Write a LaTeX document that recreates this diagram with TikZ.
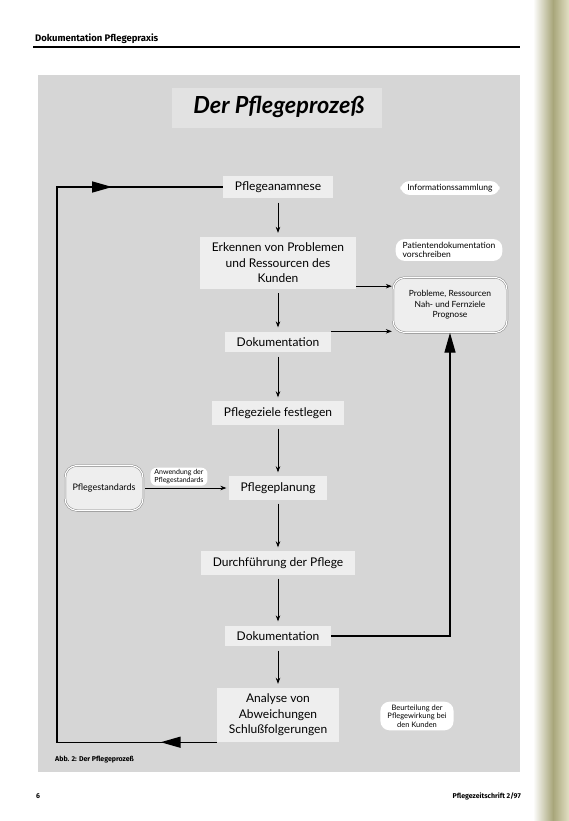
\documentclass[tikz,border=0pt]{standalone}
\usepackage{fontspec}
\setmainfont{Lato}
\newfontfamily\headfont{Fira Sans}
\usetikzlibrary{arrows.meta, decorations.markings, shapes.misc}

\definecolor{panelgray}{RGB}{214,214,214}
\definecolor{boxgray}{RGB}{238,238,238}
\definecolor{bannergray}{RGB}{226,226,226}
\definecolor{edgeolive}{RGB}{168,166,122}
\definecolor{edgebeige}{RGB}{226,224,196}

\begin{document}
\begin{tikzpicture}[x=1pt, y=-1pt,
        stepbox/.style={fill=boxgray, inner xsep=12pt, inner ysep=6pt, align=center, font=\fontsize{12}{15.5}\selectfont},
        ovalbox/.style={fill=white, rounded corners=9pt, inner xsep=7pt, inner ysep=3pt, align=center, font=\fontsize{8.5}{9.5}\selectfont},
        dblbox/.style={fill=boxgray, draw=black!55, double=white, double distance=1.2pt, rounded corners=12pt, align=center, font=\fontsize{8.5}{10.5}\selectfont},
        sarrow/.style={-{Stealth[length=6pt, width=4.5pt]}, line width=0.7pt, shorten <=4pt, shorten >=4pt},
        bigtip/.style={-{Triangle[length=20pt, width=11pt]}, line width=1.4pt}]
    \useasboundingbox (0,0) rectangle (569,821);
    \fill[white] (0,0) rectangle (569,821);
    \shade[left color=white, right color=edgeolive] (533,0) rectangle (553,821);
    \shade[left color=edgeolive, right color=edgebeige] (553,0) rectangle (569,821);

    % page head
    \node[anchor=base west, inner sep=0pt, font=\headfont\bfseries\fontsize{9.5}{11}\selectfont] (head) at (35,42) {Dokumentation Pflegepraxis};
    \draw[line width=1.2pt] (33,47) -- (520,47);

    % panel and title
    \fill[panelgray] (38,75) rectangle (520,772);
    \fill[bannergray] (172,88) rectangle (382,128);
    \node[font=\bfseries\itshape\fontsize{23.5}{26}\selectfont] (title) at (279,107) {Der Pflegeprozeß};

    % main chain
    \node[stepbox] (ana) at (278,187) {Pflegeanamnese};
    \node[stepbox] (erk) [below of = ana, node distance=76pt] {Erkennen von Problemen\\und Ressourcen des\\Kunden};
    \node[stepbox] (dok1) [below of = erk, node distance=79pt] {Dokumentation};
    \node[stepbox] (ziel) [below of = dok1, node distance=71pt] {Pflegeziele festlegen};
    \node[stepbox] (plan) [below of = ziel, node distance=75pt] {Pflegeplanung};
    \node[stepbox] (durch) [below of = plan, node distance=75pt] {Durchführung der Pflege};
    \node[stepbox] (dok2) [below of = durch, node distance=73pt] {Dokumentation};
    \node[stepbox] (anal) [below of = dok2, node distance=79pt] {Analyse von\\Abweichungen\\Schlußfolgerungen};

    \path[sarrow] (ana) edge (erk)
        (erk) edge (dok1)
        (dok1) edge (ziel)
        (ziel) edge (plan)
        (plan) edge (durch)
        (durch) edge (dok2)
        (dok2) edge (anal);

    % side notes
    \node[ovalbox] (info) at (450,188) {Informationssammlung};
    \node[ovalbox, align=left] (pdok) at (449,250) {Patientendokumentation\\vorschreiben};
    \node[dblbox, minimum width=114pt, minimum height=55pt] (prob) at (450,305) {Probleme, Ressourcen\\Nah- und Fernziele\\Prognose};
    \node[dblbox, minimum width=78pt, minimum height=45pt, font=\fontsize{9}{11}\selectfont] (std) at (104,488) {Pflegestandards};
    \node[ovalbox, font=\fontsize{7.5}{8.5}\selectfont] (beur) at (417,716) {Beurteilung der\\Pflegewirkung bei\\den Kunden};

    \draw[sarrow, shorten <=0pt, shorten >=1pt] ([yshift=3pt]erk.south east) -- ([yshift=3pt]prob.west |- erk.south);
    \draw[sarrow, shorten <=0pt, shorten >=1pt] (dok1.north east) -- (prob.west |- dok1.north);
    \draw[sarrow, shorten <=2pt, shorten >=2pt] (std.east) -- node[ovalbox, above, pos=0.42, yshift=2pt, inner xsep=4pt, inner ysep=2pt, rounded corners=6pt, font=\fontsize{7}{7.5}\selectfont] (anw) {Anwendung der\\Pflegestandards} (plan.west);

    % feedback loops
    \draw[bigtip] (dok2.east) -| (prob.south);
    \coordinate (lb) at (57,740);
    \draw[line width=1.4pt, postaction={decorate, decoration={markings,
            mark=at position 56pt with {\arrow{Triangle[length=20pt, width=11pt]}},
            mark=at position 770pt with {\arrow{Triangle[length=20pt, width=11pt]}}}}]
        (anal.south west) -- (anal.south west -| lb) |- (ana.west);

    % caption and foot
    \node[anchor=base west, inner sep=0pt, font=\headfont\bfseries\fontsize{7}{8}\selectfont] (abb) at (55,761) {Abb. 2: Der Pflegeprozeß};
    \node[anchor=base west, inner sep=0pt, font=\headfont\bfseries\fontsize{7}{8}\selectfont] (pnum) at (36,798) {6};
    \node[anchor=base east, inner sep=0pt, font=\headfont\bfseries\fontsize{7}{8}\selectfont] (jour) at (521,798) {Pflegezeitschrift 2/97};
\end{tikzpicture}
\end{document}
